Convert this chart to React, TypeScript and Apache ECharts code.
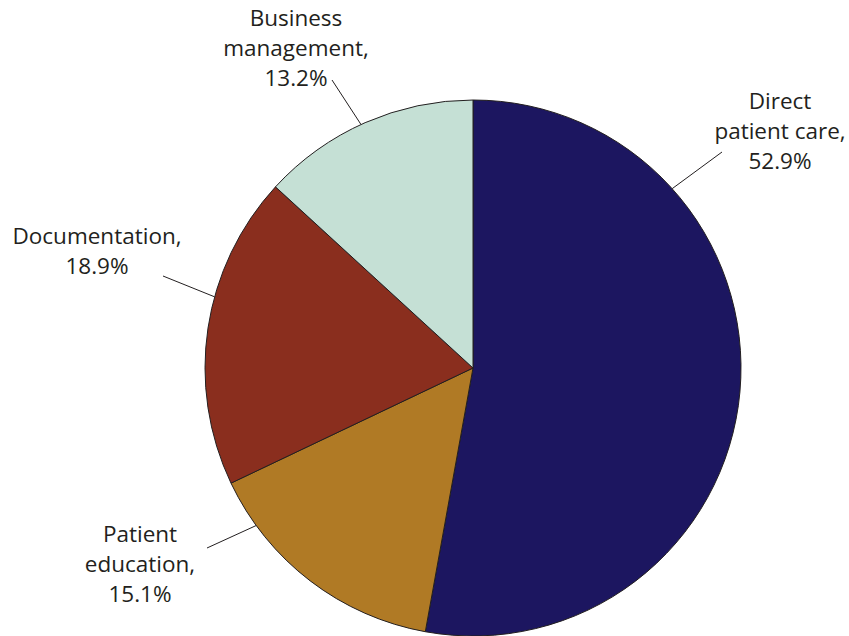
import React, { useEffect, useRef } from "react";
import * as echarts from "echarts";

const categories = ["Direct\npatient care,", "Patient\neducation,", "Documentation,", "Business\nmanagement,"];
const values = [52.9, 15.1, 18.9, 13.2];
const colors = ["#1c1660", "#b07a25", "#8a2e1e", "#c5e0d5"];

// label layout (styling): center of label text, edge angle for leader start, leader end
const labelCenters = [[780, 130], [140, 563], [97, 250], [296, 47]];
const edgeAngles = [-42, 144, -164.6, -114.7];
const leaderEnds = [[722, 152], [207, 548], [163, 276], [332, 80]];

const CX = 473, CY = 368, R = 268;

export default function App() {
  const ref = useRef<HTMLDivElement>(null);
  useEffect(() => {
    document.body.style.margin = "0";
    const chart = echarts.init(ref.current!, null, { renderer: "svg" });
    chart.setOption({
      animation: false,
      backgroundColor: "#ffffff",
      series: [
        {
          type: "pie",
          center: [CX, CY],
          radius: R,
          startAngle: 90,
          clockwise: true,
          data: categories.map((name, i) => ({
            name,
            value: values[i],
            itemStyle: { color: colors[i] },
          })),
          itemStyle: { borderColor: "#231f20", borderWidth: 1 },
          label: {
            show: true,
            formatter: (p: any) => `${p.name}\n${p.value.toFixed(1)}%`,
            fontFamily: "Open Sans",
            fontSize: 22.5,
            lineHeight: 30,
            color: "#231f20",
            align: "center",
            overflow: "none",
            width: 200,
          },
          labelLine: {
            show: true,
            lineStyle: { color: "#231f20", width: 1 },
          },
          labelLayout: (params: any) => {
            const i = params.dataIndex;
            const a = (edgeAngles[i] * Math.PI) / 180;
            const sx = CX + R * Math.cos(a);
            const sy = CY + R * Math.sin(a);
            return {
              x: labelCenters[i][0],
              y: labelCenters[i][1],
              align: "center",
              verticalAlign: "middle",
              labelLinePoints: [
                [sx, sy],
                leaderEnds[i],
                leaderEnds[i],
              ],
            };
          },
        },
      ],
    });
    return () => chart.dispose();
  }, []);
  return <div ref={ref} style={{ width: 849, height: 636 }} />;
}
